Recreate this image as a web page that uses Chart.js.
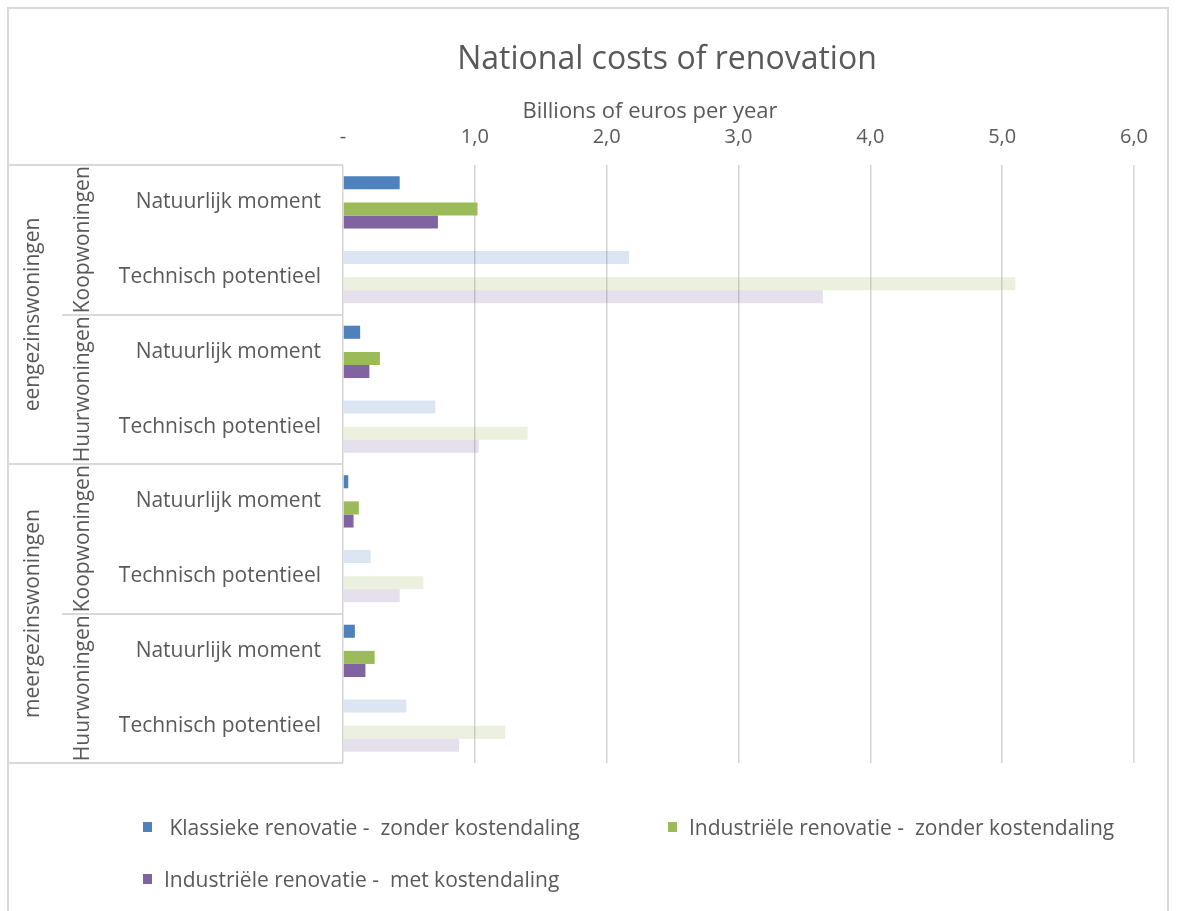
<!DOCTYPE html>
<html>
<head>
<meta charset="utf-8">
<script src="https://cdn.jsdelivr.net/npm/chart.js@4.4.1/dist/chart.umd.min.js"></script>
<style>
  body { margin: 0; background: #fff; font-family: "Open Sans", sans-serif; }
  #wrap { position: relative; width: 1177px; height: 911px; overflow: hidden; }
  #frame { position: absolute; left: 7px; top: 7px; width: 1162px; height: 940px; border: 2px solid #d9d9d9; box-sizing: border-box; pointer-events: none; }
  #costChart { position: absolute; left: 0; top: 0; }
  .legend-item { position: absolute; display: flex; align-items: center; font-size: 21px; color: #595959; white-space: pre; }
  .legend-item span.box { width: 9px; height: 10px; margin-right: 12px; }
</style>
</head>
<body>
<div id="wrap">
  <canvas id="costChart" width="1177" height="911"></canvas>
  <div id="frame"></div>
  <div id="legend"></div>
</div>
<script>
const housingTypes = ['eengezinswoningen', 'meergezinswoningen'];
const tenures = ['Koopwoningen', 'Huurwoningen'];

// one row per housing type / tenure / scenario
const labels = [
    'Natuurlijk moment', 'Technisch potentieel',
    'Natuurlijk moment', 'Technisch potentieel',
    'Natuurlijk moment', 'Technisch potentieel',
    'Natuurlijk moment', 'Technisch potentieel',
];

const klassiekZonder = [0.43, 2.17, 0.13, 0.70, 0.04, 0.21, 0.09, 0.48];
const emptySlot = [null, null, null, null, null, null, null, null];
const industrieelZonder = [1.02, 5.10, 0.28, 1.40, 0.12, 0.61, 0.24, 1.23];
const industrieelMet = [0.72, 3.64, 0.20, 1.03, 0.08, 0.43, 0.17, 0.88];

const xTicks = [0, 1, 2, 3, 4, 5, 6];

const textColor = '#595959';
const lineColor = '#d9d9d9';
const labelFont = '21px "Open Sans"';

// potential rows are shown washed out
const barColor = (rgb) => (ctx) => {
    const faded = ctx.chart.data.labels[ctx.dataIndex] === 'Technisch potentieel';
    return faded ? `rgba(${rgb}, 0.2)` : `rgb(${rgb})`;
};

const series = [
    {label: ' Klassieke renovatie -  zonder kostendaling', data: klassiekZonder, rgb: '79, 129, 189'},
    {label: '', data: emptySlot, rgb: '255, 255, 255'},
    {label: 'Industriële renovatie -  zonder kostendaling', data: industrieelZonder, rgb: '155, 187, 89'},
    {label: 'Industriële renovatie -  met kostendaling', data: industrieelMet, rgb: '128, 100, 162'},
];

const tablePlugin = {
    id: 'tableLines',
    afterDraw(chart) {
        const {ctx, scales: {y}} = chart;
        const left = 8;
        const inner = 62;
        const right = chart.chartArea.left;
        const at = (v) => y.getPixelForValue(v);

        ctx.save();
        ctx.strokeStyle = lineColor;
        ctx.lineWidth = 2;
        const hLine = (v, x0) => {
            ctx.beginPath();
            ctx.moveTo(x0, Math.round(at(v)));
            ctx.lineTo(right, Math.round(at(v)));
            ctx.stroke();
        };
        hLine(-0.5, left);
        hLine(1.5, inner);
        hLine(3.5, left);
        hLine(5.5, inner);
        hLine(7.5, left);

        // rotated group labels
        ctx.fillStyle = textColor;
        ctx.textAlign = 'center';
        ctx.textBaseline = 'middle';
        ctx.font = labelFont;
        const vText = (text, x, v) => {
            ctx.save();
            ctx.translate(x, at(v));
            ctx.rotate(-Math.PI / 2);
            ctx.fillText(text, 0, 0);
            ctx.restore();
        };
        housingTypes.forEach((h, i) => vText(h, 33, 1.5 + i * 4));
        for (let i = 0; i < 4; i++) {
            vText(tenures[i % 2], 83, 0.5 + i * 2);
        }

        // titles
        ctx.font = '32px "Open Sans"';
        ctx.fillText('National costs of renovation', 667, 60);
        ctx.font = '22px "Open Sans"';
        ctx.fillText('Billions of euros per year', 650, 112);
        ctx.restore();
    }
};

const chart = new Chart(document.getElementById('costChart'), {
    type: 'bar',
    data: {
        labels,
        datasets: series.map((s) => ({
            label: s.label,
            data: s.data,
            backgroundColor: barColor(s.rgb),
            borderWidth: 0,
            categoryPercentage: 0.7,
            barPercentage: 1.0,
        }))
    },
    options: {
        indexAxis: 'y',
        responsive: false,
        animation: false,
        layout: {padding: {left: 8, top: 120, right: 43, bottom: 148}},
        plugins: {
            legend: {display: false},
            tooltip: {enabled: false},
        },
        scales: {
            x: {
                position: 'top',
                min: 0,
                max: 6,
                afterBuildTicks: (scale) => {
                    scale.ticks = xTicks.map((value) => ({value}));
                },
                afterFit: (scale) => {
                    scale.height = 45;
                },
                grid: {color: '#d4d4d4', lineWidth: 1.5, drawTicks: false},
                border: {display: false},
                ticks: {
                    padding: 16,
                    color: textColor,
                    font: {family: 'Open Sans', size: 20},
                    callback: (v) => v === 0 ? '-' : v.toFixed(1).replace('.', ','),
                },
            },
            y: {
                afterFit: (scale) => {
                    scale.width = 335;
                },
                grid: {display: false, drawTicks: false},
                border: {display: false},
                ticks: {
                    padding: 22,
                    color: textColor,
                    font: {family: 'Open Sans', size: 21},
                },
            },
        },
    },
    plugins: [tablePlugin],
});

// legend laid out in two columns
const legendPos = [[143, 828], null, [668, 828], [143, 880]];
const legendEl = document.getElementById('legend');
series.forEach((s, i) => {
    if (!legendPos[i]) return;
    const item = document.createElement('div');
    item.className = 'legend-item';
    item.style.left = legendPos[i][0] + 'px';
    item.style.top = (legendPos[i][1] - 15) + 'px';
    const box = document.createElement('span');
    box.className = 'box';
    box.style.background = `rgb(${s.rgb})`;
    item.appendChild(box);
    item.appendChild(document.createTextNode(s.label));
    legendEl.appendChild(item);
});
</script>
</body>
</html>
